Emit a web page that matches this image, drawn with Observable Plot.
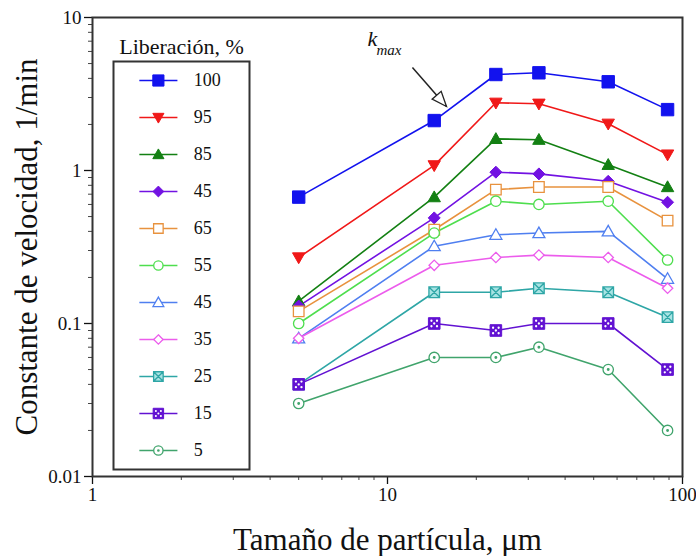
<!DOCTYPE html>
<html><head><meta charset="utf-8">
<script src="https://cdn.jsdelivr.net/npm/d3@7"></script>
<script src="https://cdn.jsdelivr.net/npm/@observablehq/plot@0.6"></script>
<style>
body{margin:0;background:#fff;}
#wrap{position:relative;width:696px;height:556px;background:#fff;}
#legend{position:absolute;left:112px;top:30px;}
#wrap svg, #wrap svg text, #wrap svg g{font-family:'Liberation Serif','Times New Roman',serif !important;}
</style></head><body><div id="wrap"></div>
<script>
// ---- data ----
const sizes = [5, 14.4, 23.3, 32.6, 56, 89];            // particle size, µm
const seriesKeys   = ["L100","L95","L85","L45a","L65","L55","L45b","L35","L25","L15","L5"];
const seriesLabels = ["100","95","85","45","65","55","45","35","25","15","5"];
const k100 = [0.67, 2.12, 4.24, 4.35, 3.80, 2.50];
const k95  = [0.27, 1.08, 2.77, 2.73, 2.02, 1.27];
const k85  = [0.14, 0.67, 1.61, 1.59, 1.09, 0.78];
const k45a = [0.13, 0.49, 0.975, 0.95, 0.85, 0.62];
const k65  = [0.12, 0.41, 0.75, 0.78, 0.78, 0.47];
const k55  = [0.10, 0.39, 0.63, 0.60, 0.63, 0.26];
const k45b = [0.08, 0.32, 0.38, 0.39, 0.40, 0.196];
const k35  = [0.08, 0.24, 0.27, 0.28, 0.27, 0.17];
const k25  = [0.04, 0.16, 0.16, 0.17, 0.16, 0.11];
const k15  = [0.04, 0.10, 0.09, 0.10, 0.10, 0.05];
const k5   = [0.03, 0.06, 0.06, 0.07, 0.05, 0.02];
const seriesValues = [k100, k95, k85, k45a, k65, k55, k45b, k35, k25, k15, k5];
const xTicks = [1, 10, 100];
const xTickLabels = ["1", "10", "100"];
const yTicks = [0.01, 0.1, 1, 10];
const yTickLabels = ["0.01", "0.1", "1", "10"];
const xTitle = "Tamaño de partícula, μm";
const yTitle = "Constante de velocidad, 1/min";
const legendTitle = "Liberación, %";
const kmaxLabelK = [8.56, 7.29];    // x, y of "k"
const kmaxLabelSub = [9.18, 6.07];  // x, y of "max"
const kmaxArrowFrom = [12.15, 4.71];
const kmaxArrowTo = [15.85, 2.62];

// ---- symbols ----
const R = s => Math.sqrt(s / Math.PI);
const symSquare = {draw(c, s){const r=R(s); c.rect(-r,-r,2*r,2*r);}};
const symDiamond = {draw(c, s){const r=R(s); c.moveTo(0,-r); c.lineTo(r,0); c.lineTo(0,r); c.lineTo(-r,0); c.closePath();}};
const symTriUp = {draw(c, s){const r=R(s); c.moveTo(0,-r); c.lineTo(r,r*0.75); c.lineTo(-r,r*0.75); c.closePath();}};
const symTriDown = {draw(c, s){const r=R(s); c.moveTo(0,r); c.lineTo(r,-r*0.75); c.lineTo(-r,-r*0.75); c.closePath();}};
const symCircle = {draw(c, s){const r=R(s); c.moveTo(r,0); c.arc(0,0,r,0,2*Math.PI);}};
const symSquareX = {draw(c, s){const r=R(s); c.rect(-r,-r,2*r,2*r); c.moveTo(-r,-r); c.lineTo(r,r); c.moveTo(r,-r); c.lineTo(-r,r);}};
const symDots = {draw(c, s){const r=R(s), d=r*0.48, q=r*0.2;
  for (const [px,py] of [[-d,-d],[d,-d],[-d,d],[d,d],[0,0]]) {c.moveTo(px+q,py); c.arc(px,py,q,0,2*Math.PI);} }};
const symCenter = {draw(c, s){const r=R(s)*0.28; c.moveTo(r,0); c.arc(0,0,r,0,2*Math.PI);}};
const symArrowHead = {draw(c){
  const ux=34/Math.hypot(34,39), uy=39/Math.hypot(34,39), L=15, w=6;
  const bx=-ux*L, by=-uy*L, px=-uy, py=ux;
  c.moveTo(0,0); c.lineTo(bx+px*w, by+py*w); c.lineTo(bx-px*w, by-py*w); c.closePath();}};

const seriesStyle = {
  L100: {color:"#1212ee", symbol:symSquare, r:6.2, fill:"#1212ee", sw:1},
  L95:  {color:"#f01818", symbol:symTriDown, r:6.2, fill:"#f01818", sw:1},
  L85:  {color:"#138013", symbol:symTriUp, r:6.2, fill:"#138013", sw:1},
  L45a: {color:"#7212e2", symbol:symDiamond, r:6, fill:"#7212e2", sw:1},
  L65:  {color:"#e8923e", symbol:symSquare, r:5.3, fill:"white", sw:1.3},
  L55:  {color:"#4ede4e", symbol:symCircle, r:5.2, fill:"white", sw:1.3},
  L45b: {color:"#4f7ff0", symbol:symTriUp, r:6, fill:"white", sw:1.3},
  L35:  {color:"#ec5cec", symbol:symDiamond, r:5.2, fill:"white", sw:1.3},
  L25:  {color:"#2ea6a6", symbol:symSquareX, r:5.3, fill:"#a8e4e4", sw:1.3},
  L15:  {color:"#6212d2", symbol:symSquare, r:5.8, fill:"#6212d2", sw:1, overlay:symDots, overlayFill:"white"},
  L5:   {color:"#40a46c", symbol:symCircle, r:5.2, fill:"white", sw:1.3, overlay:symCenter, overlayFill:"#40a46c"}
};

const rows = seriesKeys.flatMap((key, i) => sizes.map((x, j) => ({key, x, k: seriesValues[i][j]})));

function markerMarks(data, s, xo, yo, scale = 1) {
  const m = [Plot.dot(data, {x: xo, y: yo, symbol: s.symbol, r: s.r*scale, fill: s.fill, stroke: s.color, strokeWidth: s.sw})];
  if (s.overlay) m.push(Plot.dot(data, {x: xo, y: yo, symbol: s.overlay, r: s.r*scale, fill: s.overlayFill, stroke: "none"}));
  return m;
}

const font = "Liberation Serif";
const minorX = [1, 10].flatMap(d => d3.range(2, 10).map(m => m * d));
const minorY = [0.01, 0.1, 1].flatMap(d => d3.range(2, 10).map(m => m * d));

const lineMarks = seriesKeys.map(key => Plot.line(rows.filter(r => r.key === key), {x: "x", y: "k", stroke: seriesStyle[key].color, strokeWidth: 1.6}));
const dotMarks = seriesKeys.flatMap(key => markerMarks(rows.filter(r => r.key === key), seriesStyle[key], "x", "k"));
const arrowRows = [{x1: kmaxArrowFrom[0], y1: kmaxArrowFrom[1], x2: kmaxArrowTo[0], y2: kmaxArrowTo[1]}];

const main = Plot.plot({
  width: 696, height: 556,
  marginLeft: 92, marginRight: 14, marginTop: 17, marginBottom: 80,
  x: {type: "log", domain: [1, 100], label: null},
  y: {type: "log", domain: [0.01, 10], label: null},
  style: {fontFamily: font, fontSize: "19px", color: "#111", background: "white"},
  marks: [
    Plot.axisX({ticks: minorX, tickSize: 4, tickFormat: () => "", label: null, stroke: "#444"}),
    Plot.axisY({ticks: minorY, tickSize: 4, tickFormat: () => "", label: null, stroke: "#444"}),
    Plot.axisX({ticks: xTicks, tickSize: 8, tickPadding: 3, tickFormat: d => xTickLabels[xTicks.indexOf(d)], label: null, fontSize: 19, fontFamily: font, strokeWidth: 1.3}),
    Plot.axisY({ticks: yTicks, tickSize: 8, tickPadding: 3, tickFormat: d => yTickLabels[yTicks.indexOf(d)], label: null, fontSize: 19, fontFamily: font, strokeWidth: 1.3}),
    Plot.axisX({ticks: [], label: xTitle, labelAnchor: "center", labelArrow: "none", labelOffset: 73, dx: 2, fontSize: 31, fontFamily: font}),
    Plot.axisY({ticks: [], label: yTitle, labelAnchor: "center", labelArrow: "none", labelOffset: 78, dy: -31, fontSize: 31, fontFamily: font}),
    ...lineMarks,
    ...dotMarks,
    Plot.link(arrowRows, {x1: "x1", y1: "y1", x2: "x2", y2: "y2", stroke: "#222", strokeWidth: 1.5}),
    Plot.dot(arrowRows, {x: "x2", y: "y2", symbol: symArrowHead, r: 5, fill: "white", stroke: "#222", strokeWidth: 1.3}),
    Plot.text(["k"], {x: kmaxLabelK[0], y: kmaxLabelK[1], text: d => d, fontSize: 22, fontFamily: font, fontStyle: "italic", textAnchor: "start", lineAnchor: "middle"}),
    Plot.text(["max"], {x: kmaxLabelSub[0], y: kmaxLabelSub[1], text: d => d, fontSize: 15, fontFamily: font, fontStyle: "italic", textAnchor: "start", lineAnchor: "middle"}),
    Plot.frame({stroke: "#333", strokeWidth: 2})
  ]
});

const legendRows = seriesKeys.map((key, i) => ({key, label: seriesLabels[i]}));
const legend = Plot.plot({
  width: 138, height: 441,
  marginTop: 31, marginBottom: 2, marginLeft: 1, marginRight: 1,
  x: {domain: [0, 1], axis: null},
  y: {type: "point", domain: seriesKeys, range: [50, 420], padding: 0, axis: null},
  style: {fontFamily: font, fontSize: "18px", color: "#111", background: "transparent", overflow: "visible"},
  marks: [
    Plot.frame({stroke: "#333", strokeWidth: 2, fill: "white"}),
    Plot.text([legendTitle], {frameAnchor: "top", dy: -15, text: d => d, fontSize: 22, fontFamily: font, lineAnchor: "middle"}),
    ...seriesKeys.map(key => Plot.link(legendRows.filter(r => r.key === key), {x1: 0.19, x2: 0.47, y1: "key", y2: "key", stroke: seriesStyle[key].color, strokeWidth: 1.5})),
    ...seriesKeys.flatMap(key => markerMarks(legendRows.filter(r => r.key === key), seriesStyle[key], 0.33, "key", 0.9)),
    Plot.text(legendRows, {x: 0.59, y: "key", text: "label", textAnchor: "start", lineAnchor: "middle", fontSize: 18, fontFamily: font})
  ]
});
legend.id = "legend";
const wrap = document.getElementById("wrap");
wrap.appendChild(main);
wrap.appendChild(legend);
</script></body></html>
